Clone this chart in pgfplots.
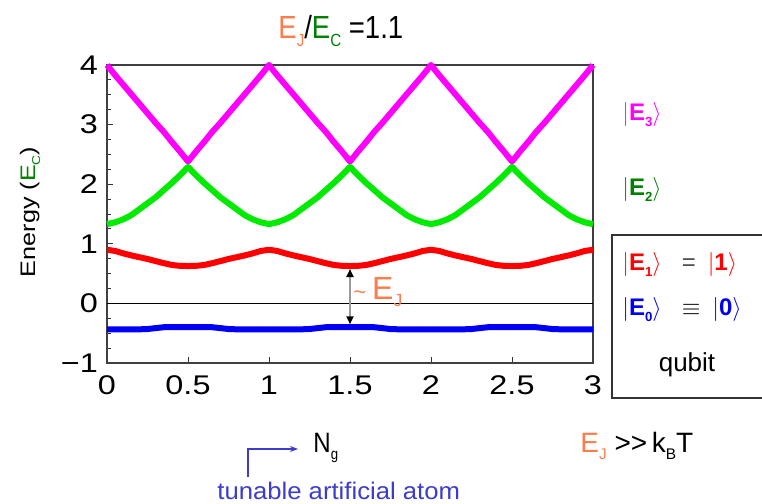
\documentclass[border=0pt]{standalone}
\usepackage{fontspec}
\setmainfont{Liberation Sans}
\newfontfamily\widefont[FakeStretch=1.2]{Liberation Sans}
\newfontfamily\narrowfont[FakeStretch=0.86]{Liberation Sans}
\usepackage{graphicx}
\usepackage{pgfplots}
\pgfplotsset{compat=1.18}
\usepackage{pgfplotstable}
\usetikzlibrary{arrows.meta}

\definecolor{cMag}{RGB}{255,0,255}
\definecolor{cGrn}{RGB}{0,235,0}
\definecolor{cDGrn}{RGB}{0,128,0}
\definecolor{cRed}{RGB}{255,0,0}
\definecolor{cBlu}{RGB}{0,0,245}
\definecolor{cOra}{RGB}{250,125,75}
\definecolor{cAtom}{RGB}{60,60,205}

% small, lowered subscript as in the slide
\newcommand{\sub}[1]{\raisebox{-0.45ex}{\scalebox{0.55}{#1}}}
% ket with a bold E and a small subscript
\newcommand{\kE}[2]{{\color{#1}$\big|$\textbf{E\sub{#2}}$\big\rangle$}}
\newcommand{\kN}[2]{{\color{#1}$\big|$\textbf{#2}$\big\rangle$}}

% levels of the box against gate charge (period 1)
\pgfplotstableread{
Ng    E0      E1     E2    E3
0.00  -0.435  0.900  1.33  4.00
0.05  -0.435  0.880  1.36  3.83
0.10  -0.435  0.840  1.41  3.67
0.15  -0.435  0.805  1.48  3.51
0.20  -0.435  0.775  1.58  3.35
0.25  -0.430  0.745  1.68  3.19
0.30  -0.415  0.710  1.78  3.03
0.35  -0.400  0.675  1.90  2.88
0.40  -0.400  0.645  2.02  2.71
0.45  -0.400  0.630  2.15  2.55
0.50  -0.400  0.627  2.29  2.38
0.55  -0.400  0.630  2.15  2.55
0.60  -0.400  0.645  2.02  2.71
0.65  -0.400  0.675  1.90  2.88
0.70  -0.415  0.710  1.78  3.03
0.75  -0.430  0.745  1.68  3.19
0.80  -0.435  0.775  1.58  3.35
0.85  -0.435  0.805  1.48  3.51
0.90  -0.435  0.840  1.41  3.67
0.95  -0.435  0.880  1.36  3.83
1.00  -0.435  0.900  1.33  4.00
1.05  -0.435  0.880  1.36  3.83
1.10  -0.435  0.840  1.41  3.67
1.15  -0.435  0.805  1.48  3.51
1.20  -0.435  0.775  1.58  3.35
1.25  -0.430  0.745  1.68  3.19
1.30  -0.415  0.710  1.78  3.03
1.35  -0.400  0.675  1.90  2.88
1.40  -0.400  0.645  2.02  2.71
1.45  -0.400  0.630  2.15  2.55
1.50  -0.400  0.627  2.29  2.38
1.55  -0.400  0.630  2.15  2.55
1.60  -0.400  0.645  2.02  2.71
1.65  -0.400  0.675  1.90  2.88
1.70  -0.415  0.710  1.78  3.03
1.75  -0.430  0.745  1.68  3.19
1.80  -0.435  0.775  1.58  3.35
1.85  -0.435  0.805  1.48  3.51
1.90  -0.435  0.840  1.41  3.67
1.95  -0.435  0.880  1.36  3.83
2.00  -0.435  0.900  1.33  4.00
2.05  -0.435  0.880  1.36  3.83
2.10  -0.435  0.840  1.41  3.67
2.15  -0.435  0.805  1.48  3.51
2.20  -0.435  0.775  1.58  3.35
2.25  -0.430  0.745  1.68  3.19
2.30  -0.415  0.710  1.78  3.03
2.35  -0.400  0.675  1.90  2.88
2.40  -0.400  0.645  2.02  2.71
2.45  -0.400  0.630  2.15  2.55
2.50  -0.400  0.627  2.29  2.38
2.55  -0.400  0.630  2.15  2.55
2.60  -0.400  0.645  2.02  2.71
2.65  -0.400  0.675  1.90  2.88
2.70  -0.415  0.710  1.78  3.03
2.75  -0.430  0.745  1.68  3.19
2.80  -0.435  0.775  1.58  3.35
2.85  -0.435  0.805  1.48  3.51
2.90  -0.435  0.840  1.41  3.67
2.95  -0.435  0.880  1.36  3.83
3.00  -0.435  0.900  1.33  4.00
}\levels

\begin{document}
\begin{tikzpicture}
\useasboundingbox (0,0) rectangle (381pt,252pt);

\begin{axis}[
    at={(53.5pt,70.5pt)}, anchor=south west,
    scale only axis, width=243pt, height=149pt,
    xmin=0, xmax=3, ymin=-1, ymax=4,
    xtick={0,0.5,1,1.5,2,2.5,3},
    xticklabels={0,0.5,1,1.5,2,2.5,3},
    ytick={-1,0,1,2,3,4},
    yticklabels={−1,0,1,2,3,4},
    minor y tick num=3,
    xtick pos=bottom, ytick pos=left,
    tick align=inside,
    major tick length=3pt, minor tick length=2pt,
    tick style={black!80, line width=0.5pt},
    tick label style={font=\widefont\fontsize{13.5}{14}\selectfont},
    xticklabel style={yshift=-3pt},
    yticklabel style={xshift=-1pt},
    axis line style={black!75, line width=0.7pt},
    clip=false,
]
\draw[black, line width=0.6pt] (axis cs:0,0) -- (axis cs:3,0);

\addplot[cMag, line width=3pt, line join=round] table[x=Ng, y=E3] {\levels};
\addplot[cGrn, line width=3pt, line join=round] table[x=Ng, y=E2] {\levels};
\addplot[cRed, line width=3pt, line join=round] table[x=Ng, y=E1] {\levels};
\addplot[cBlu, line width=3pt, line join=round] table[x=Ng, y=E0] {\levels};

% the gap between the two lowest levels
\draw[black!40, line width=0.9pt,
      {Triangle[color=black, length=4pt, width=3.5pt]}-{Triangle[color=black, length=4pt, width=3.5pt]}]
  (axis cs:1.5,-0.35) -- (axis cs:1.5,0.577);
\end{axis}

% title and axis captions
\node[anchor=base west, inner sep=0pt, font=\narrowfont\fontsize{16}{18}\selectfont] at (139pt,232.5pt)
  {{\color{cOra}E\sub{J}}/{\color{cDGrn}E\sub{C}} =1.1};
\node[rotate=90, font=\widefont\fontsize{10.5}{12}\selectfont] at (15pt,146pt)
  {Energy ({\color{cDGrn}E\sub{C}})};
\node[anchor=base west, inner sep=0pt, font=\narrowfont\fontsize{14}{16}\selectfont] at (156.5pt,25.5pt)
  {N\sub{g}};
\node[anchor=base west, font=\fontsize{12}{14}\selectfont, text=cAtom, inner sep=0pt] at (108.5pt,2pt)
  {\addfontfeatures{FakeStretch=1.07}tunable artificial atom};
\draw[cAtom, line width=0.6pt, -{Stealth[length=4pt, width=3pt]}]
  (124pt,13.5pt) -- (124pt,27.5pt) -- (149pt,27.5pt);
\node[anchor=west, text=cOra, inner sep=0pt] at (176.5pt,106pt)
  {\fontsize{11}{12}\selectfont\textasciitilde\hspace{3pt}\fontsize{16}{18}\selectfont E\sub{J}};
\node[anchor=base west, font=\fontsize{14}{16}\selectfont, inner sep=0pt] at (290pt,25.5pt)
  {{\color{cOra}E\sub{J}} {>}{>}\,k\sub{B}T};

% level names on the right
\node[anchor=west, font=\fontsize{12}{14}\selectfont, inner sep=0pt] at (311pt,194.5pt) {\kE{cMag}{3}};
\node[anchor=west, font=\fontsize{12}{14}\selectfont, inner sep=0pt] at (311pt,157pt) {\kE{cDGrn}{2}};
\draw[black!80, line width=0.6pt] (383pt,134.5pt) -- (306pt,134.5pt) -- (306pt,53pt) -- (383pt,53pt);
\node[anchor=west, font=\fontsize{12}{14}\selectfont, inner sep=0pt] at (311pt,119.5pt)
  {\kE{cRed}{1}\hspace{10pt}{\color{black!70}=}\hspace{6pt}\kN{cRed}{1}};
\node[anchor=west, font=\fontsize{12}{14}\selectfont, inner sep=0pt] at (311pt,97pt)
  {\kE{cBlu}{0}\hspace{10pt}$\equiv$\hspace{6pt}\kN{cBlu}{0}};
\node[font=\fontsize{13}{15}\selectfont] at (343.5pt,69.5pt) {qubit};
\end{tikzpicture}
\end{document}
